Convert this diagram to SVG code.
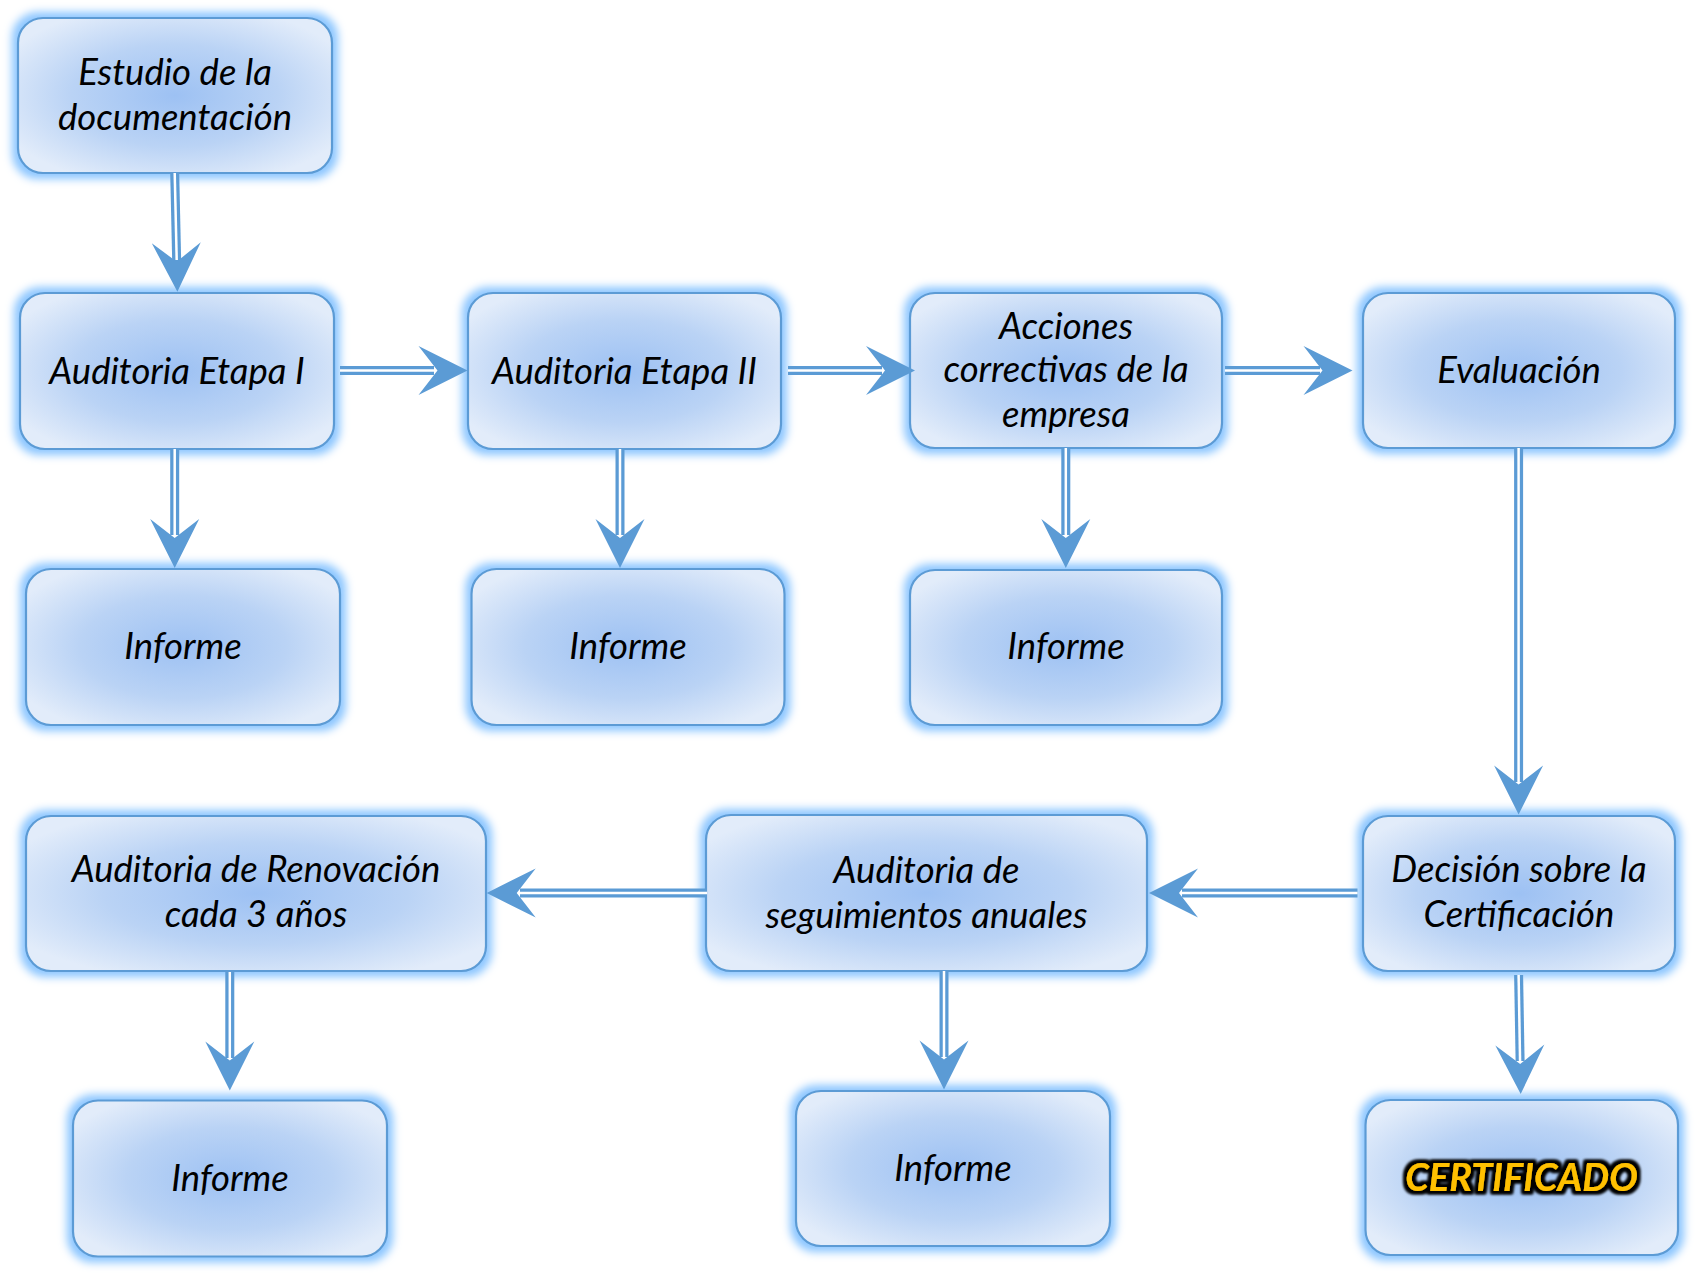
<svg xmlns="http://www.w3.org/2000/svg" xmlns:xlink="http://www.w3.org/1999/xlink" width="1696" height="1274" viewBox="0 0 1696 1274">
<defs>
<radialGradient id="fill" cx="50%" cy="50%" r="60%">
<stop offset="0" stop-color="#9dc1f3"/>
<stop offset="0.55" stop-color="#bad3f5"/>
<stop offset="1" stop-color="#e2ecfa"/>
</radialGradient>
<filter id="glow" x="-10%" y="-15%" width="120%" height="130%">
<feMorphology in="SourceAlpha" operator="dilate" radius="4.5" result="d"/>
<feGaussianBlur in="d" stdDeviation="4" result="b"/>
<feFlood flood-color="#8cc6ff" flood-opacity="1"/>
<feComposite in2="b" operator="in" result="g"/>
<feMerge><feMergeNode in="g"/><feMergeNode in="SourceGraphic"/></feMerge>
</filter>
<filter id="outline" x="-10%" y="-30%" width="120%" height="160%">
<feMorphology in="SourceAlpha" operator="dilate" radius="2.5" result="d"/>
<feGaussianBlur in="d" stdDeviation="1.6" result="b"/>
<feFlood flood-color="#000"/>
<feComposite in2="b" operator="in" result="g"/>
<feMerge><feMergeNode in="g"/><feMergeNode in="g"/><feMergeNode in="SourceGraphic"/></feMerge>
</filter>
<path id="ah" d="M0,0 L-49,-24.5 L-30,0 L-49,24.5 Z"/>
</defs>
<style>
.box{fill:url(#fill);stroke:#5b9bd5;stroke-width:2.2;filter:url(#glow)}
.t{font-family:Lato,"Open Sans","Liberation Sans",sans-serif;font-style:italic;font-size:36.5px;fill:#000;text-anchor:middle}
.cert{font-family:Lato,"Open Sans","Liberation Sans",sans-serif;font-style:italic;font-weight:bold;font-size:38px;fill:#ffc000;text-anchor:middle;filter:url(#outline)}
.o{fill:none;stroke:#5b9bd5;stroke-width:9}
.i{fill:none;stroke:#fff;stroke-width:2.5}
.h{fill:#5b9bd5}
</style>
<rect width="1696" height="1274" fill="#fff"/>

<g id="n1"><rect class="box" x="18" y="18" width="314" height="155" rx="25"/><text class="t" x="175" y="85">Estudio de la</text><text class="t" x="175" y="130">documentación</text></g>
<g id="n2"><rect class="box" x="20" y="293" width="314" height="156" rx="25"/><text class="t" x="177" y="383.5">Auditoria Etapa I</text></g>
<g id="n3"><rect class="box" x="468" y="293" width="313" height="156" rx="25"/><text class="t" x="624.5" y="383.5">Auditoria Etapa II</text></g>
<g id="n4"><rect class="box" x="910" y="293" width="312" height="155" rx="25"/><text class="t" x="1066" y="338.5">Acciones</text><text class="t" x="1066" y="382">correctivas de la</text><text class="t" x="1066" y="426.5">empresa</text></g>
<g id="n5"><rect class="box" x="1363" y="293" width="312" height="155" rx="25"/><text class="t" x="1519" y="383">Evaluación</text></g>
<g id="n6"><rect class="box" x="26" y="569" width="314" height="156" rx="25"/><text class="t" x="183" y="658.5">Informe</text></g>
<g id="n7"><rect class="box" x="471.5" y="569" width="313" height="156" rx="25"/><text class="t" x="628" y="659">Informe</text></g>
<g id="n8"><rect class="box" x="910" y="570" width="312" height="155" rx="25"/><text class="t" x="1066" y="659">Informe</text></g>
<g id="n9"><rect class="box" x="26" y="816" width="460" height="155" rx="25"/><text class="t" x="256" y="882">Auditoria de Renovación</text><text class="t" x="256" y="927">cada 3 años</text></g>
<g id="n10"><rect class="box" x="706" y="815" width="441" height="156" rx="25"/><text class="t" x="926.5" y="882.5">Auditoria de</text><text class="t" x="926.5" y="927.5">seguimientos anuales</text></g>
<g id="n11"><rect class="box" x="1363" y="816" width="312" height="155" rx="25"/><text class="t" x="1519" y="882">Decisión sobre la</text><text class="t" x="1519" y="927">Certificación</text></g>
<g id="n12"><rect class="box" x="73" y="1100.5" width="314" height="156" rx="25"/><text class="t" x="230" y="1191">Informe</text></g>
<g id="n13"><rect class="box" x="796" y="1091" width="314" height="155" rx="25"/><text class="t" x="953" y="1181">Informe</text></g>
<g id="n14"><rect class="box" x="1365.5" y="1100" width="312.5" height="155" rx="25"/><text class="cert" x="1521.5" y="1191">CERTIFICADO</text></g>

<g id="connectors">
<g><path class="o" d="M174.7,173 L176.7,262"/><path class="i" d="M174.7,173 L176.7,260"/><use href="#ah" class="h" transform="translate(177.4,291.7) rotate(88.7)"/></g>
<g><path class="o" d="M340,370.5 H434"/><path class="i" d="M340,370.5 H437"/><use href="#ah" class="h" transform="translate(467.5,370.5)"/></g>
<g><path class="o" d="M788,370.5 H882"/><path class="i" d="M788,370.5 H885"/><use href="#ah" class="h" transform="translate(915,370.5)"/></g>
<g><path class="o" d="M1225,370.5 H1320"/><path class="i" d="M1225,370.5 H1322.5"/><use href="#ah" class="h" transform="translate(1352.5,370.5)"/></g>
<g><path class="o" d="M174.7,449 V535"/><path class="i" d="M174.7,449 V538"/><use href="#ah" class="h" transform="translate(174.7,568) rotate(90)"/></g>
<g><path class="o" d="M620,449 V535"/><path class="i" d="M620,449 V538"/><use href="#ah" class="h" transform="translate(620,568) rotate(90)"/></g>
<g><path class="o" d="M1065.8,448 V535"/><path class="i" d="M1065.8,448 V538"/><use href="#ah" class="h" transform="translate(1065.8,568) rotate(90)"/></g>
<g><path class="o" d="M1518.6,448 V782"/><path class="i" d="M1518.6,448 V784.5"/><use href="#ah" class="h" transform="translate(1518.6,814.5) rotate(90)"/></g>
<g><path class="o" d="M1357.5,893 H1182"/><path class="i" d="M1357.5,893 H1179"/><use href="#ah" class="h" transform="translate(1149,893) rotate(180)"/></g>
<g><path class="o" d="M707,893 H520"/><path class="i" d="M707,893 H516.7"/><use href="#ah" class="h" transform="translate(486.7,893) rotate(180)"/></g>
<g><path class="o" d="M944,971 V1057"/><path class="i" d="M944,971 V1059.5"/><use href="#ah" class="h" transform="translate(944,1089.5) rotate(90)"/></g>
<g><path class="o" d="M1518.6,975 L1520.1,1061"/><path class="i" d="M1518.6,975 L1520.1,1063"/><use href="#ah" class="h" transform="translate(1520.7,1094) rotate(89)"/></g>
<g><path class="o" d="M229.8,972 V1058"/><path class="i" d="M229.8,972 V1060.5"/><use href="#ah" class="h" transform="translate(229.8,1090.5) rotate(90)"/></g>
</g>
</svg>
